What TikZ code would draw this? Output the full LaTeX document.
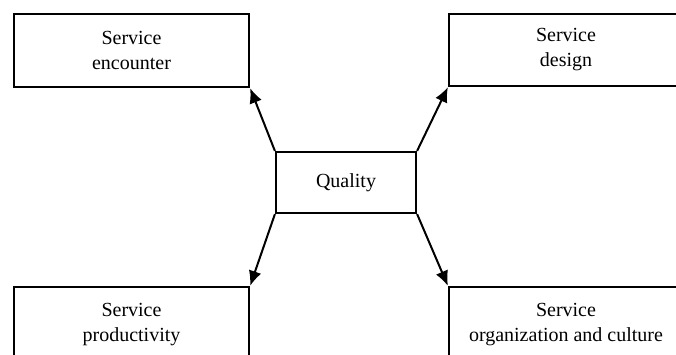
\documentclass[tikz,border=0pt]{standalone}
\usepackage{fontspec}
\setmainfont{Liberation Serif}
\usetikzlibrary{arrows.meta}
\tikzset{
  box/.style={draw, line width=2.2pt, align=center, font=\fontsize{20}{25}\selectfont, inner sep=0pt},
  link/.style={line width=2pt, -{Latex[length=15pt,width=13pt]}}
}
\begin{document}
\begin{tikzpicture}[x=1pt,y=-1pt]
\useasboundingbox (0,0) rectangle (676,354);
\clip (0,0) rectangle (676,354);
% centro
\node[box, minimum width=140pt, minimum height=61pt] (quality) at (346, 182.5) {Quality};
% riquadri in alto
\node[box, minimum width=235pt, minimum height=73pt] (encounter) at (131.5, 50.5) {Service\\encounter};
\node[box, minimum width=234pt, minimum height=72pt] (design) at (566, 50) {Service\\design};
% riquadri in basso
\node[box, minimum width=235pt, minimum height=75pt] (productivity) at (131.5, 324.5) {Service\\productivity};
\node[box, minimum width=234pt, minimum height=75pt] (culture) at (566, 324.5) {Service\\organization and culture};
% frecce
\draw[link] (quality.north west) -- (encounter.south east);
\draw[link] (quality.north east) -- (design.south west);
\draw[link] (quality.south west) -- (productivity.north east);
\draw[link] (quality.south east) -- (culture.north west);
\end{tikzpicture}
\end{document}
